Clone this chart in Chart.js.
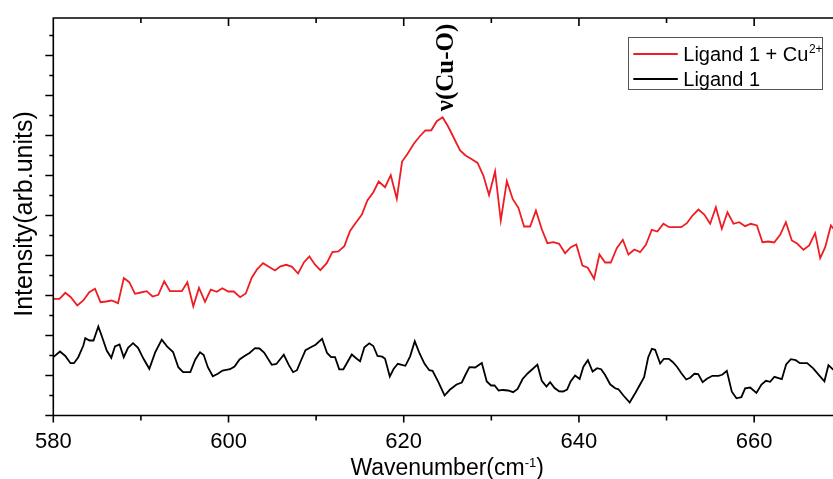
<!DOCTYPE html>
<html lang="en">
<head>
    <meta charset="UTF-8">
    <meta name="viewport" content="width=device-width, initial-scale=1.0">
    <title>Raman spectrum</title>
    <script src="https://cdn.jsdelivr.net/npm/chart.js"></script>
    <style>
        html, body {
            margin: 0;
            padding: 0;
            background: #fff;
        }
        .chart-container {
            position: relative;
            width: 833px;
            height: 479px;
        }
    </style>
</head>
<body>
    <div class="chart-container">
        <canvas id="spectrumChart"></canvas>
    </div>
    <script>
        // axis ticks
        const wavenumberMajorTicks = [580, 600, 620, 640, 660];
        const wavenumberMinorTicks = [590, 610, 630, 650];
        const intensityMajorTicks = [0, 10, 20, 30, 40, 50, 60, 70, 80, 90];
        const intensityMinorTicks = [5, 15, 25, 35, 45, 55, 65, 75, 85, 95];

        // Ligand 1 + Cu2+ (red)
        const cuWavenumbers = [
            580.00, 580.71, 581.37, 582.00, 582.74, 583.43, 584.10, 584.76, 585.39, 586.03,
            586.67, 587.39, 588.05, 588.67, 589.33, 589.99, 590.66, 591.33, 591.99, 592.66,
            593.32, 594.01, 594.67, 595.30, 595.98, 596.63, 597.32, 597.97, 598.66, 599.29,
            599.97, 600.60, 601.32, 601.97, 602.65, 603.26, 603.94, 604.60, 605.31, 605.93,
            606.60, 607.25, 607.94, 608.62, 609.23, 609.88, 610.48, 611.21, 611.85, 612.54,
            613.22, 613.87, 614.53, 615.21, 615.85, 616.53, 617.14, 617.87, 618.52, 619.21,
            619.81, 620.44, 621.15, 621.81, 622.47, 623.15, 623.77, 624.44, 625.10, 625.81,
            626.43, 627.06, 627.77, 628.43, 629.09, 629.74, 630.43, 631.08, 631.77, 632.45,
            633.09, 633.74, 634.43, 635.09, 635.76, 636.40, 637.09, 637.74, 638.42, 639.07,
            639.70, 640.40, 641.01, 641.73, 642.34, 642.99, 643.64, 644.32, 645.01, 645.65,
            646.33, 646.98, 647.64, 648.32, 648.96, 649.64, 650.30, 650.98, 651.67, 652.32,
            652.96, 653.64, 654.31, 654.98, 655.63, 656.31, 656.95, 657.64, 658.29, 658.97,
            659.62, 660.31, 660.95, 661.63, 662.28, 662.97, 663.62, 664.30, 664.94, 665.63,
            666.28, 666.96, 667.54, 668.11, 668.76, 669.42
        ];
        const cuIntensity = [
            29.18, 29.18, 30.68, 29.58, 27.50, 28.75, 30.83, 31.68, 28.33, 28.50,
            28.75, 28.08, 34.38, 33.33, 30.43, 30.75, 31.08, 29.75, 30.18, 33.58,
            31.08, 31.08, 31.08, 33.33, 27.30, 31.93, 28.43, 31.45, 30.93, 31.83,
            31.00, 31.00, 29.58, 30.50, 34.45, 36.55, 38.08, 37.18, 36.25, 37.30,
            37.68, 37.18, 35.50, 38.33, 39.75, 37.70, 36.33, 38.08, 40.83, 41.00,
            42.33, 46.13, 48.18, 50.18, 53.75, 55.83, 58.50, 57.08, 60.08, 54.18,
            63.50, 65.43, 67.93, 69.75, 71.25, 71.30, 73.58, 74.58, 72.13, 69.00,
            66.25, 65.00, 64.08, 63.13, 60.00, 55.13, 61.00, 48.75, 58.58, 54.08,
            51.93, 47.25, 47.25, 51.25, 46.55, 43.08, 43.33, 42.93, 40.58, 42.08,
            42.75, 37.50, 36.93, 34.18, 40.25, 38.25, 38.25, 41.83, 43.93, 40.25,
            41.50, 40.83, 42.68, 46.43, 46.00, 47.93, 47.08, 47.08, 47.08, 48.08,
            50.00, 51.50, 50.25, 47.93, 52.08, 46.68, 50.83, 47.93, 48.33, 47.33,
            47.93, 47.50, 43.33, 43.50, 43.25, 45.18, 48.33, 43.75, 42.93, 41.43,
            42.50, 45.58, 39.33, 42.08, 47.50, 45.75
        ];

        // Ligand 1 (black)
        const ligandWavenumbers = [
            580.00, 580.76, 581.37, 581.96, 582.36, 582.85, 583.43, 583.65, 584.13, 584.59,
            585.14, 585.53, 586.10, 586.62, 587.04, 587.56, 588.04, 588.53, 589.10, 589.67,
            590.30, 590.96, 591.65, 592.38, 592.98, 593.67, 594.27, 594.81, 595.64, 596.21,
            596.75, 597.17, 597.64, 598.21, 598.78, 599.32, 600.17, 600.69, 601.26, 601.83,
            602.40, 603.03, 603.54, 604.06, 604.94, 605.46, 606.31, 606.89, 607.37, 607.82,
            608.20, 608.79, 609.40, 609.94, 610.68, 611.25, 611.71, 612.16, 612.64, 613.11,
            614.07, 614.64, 615.02, 615.51, 616.07, 616.53, 617.01, 617.55, 617.87, 618.41,
            618.86, 619.33, 620.19, 620.73, 621.26, 621.81, 622.38, 622.92, 623.29, 623.96,
            624.66, 625.26, 626.03, 626.63, 627.06, 627.50, 628.15, 628.91, 629.48, 629.97,
            630.37, 630.83, 631.34, 631.91, 632.49, 633.00, 633.57, 634.14, 634.65, 635.26,
            635.76, 636.29, 636.71, 637.22, 637.74, 638.19, 638.65, 639.05, 639.56, 640.08,
            640.51, 641.02, 641.56, 642.07, 642.53, 642.99, 643.56, 644.13, 644.51, 645.08,
            645.79, 646.47, 647.04, 647.44, 647.90, 648.32, 648.70, 649.27, 649.70, 650.26,
            650.70, 651.21, 651.67, 652.24, 652.69, 653.18, 653.61, 654.12, 654.61, 655.23,
            655.92, 656.35, 656.88, 657.45, 657.98, 658.54, 658.97, 659.54, 660.26, 660.83,
            661.35, 661.83, 662.31, 663.16, 663.65, 664.19, 664.74, 665.22, 666.05, 666.74,
            667.40, 668.02, 668.48, 668.99, 669.50
        ];
        const ligandIntensity = [
            14.58, 16.00, 14.88, 13.08, 13.08, 14.58, 17.50, 19.33, 18.75, 18.75,
            22.25, 19.88, 16.25, 14.43, 17.25, 17.75, 14.58, 16.93, 18.08, 16.93,
            14.18, 11.68, 15.88, 18.95, 17.30, 15.88, 12.08, 10.83, 10.83, 14.00,
            15.83, 15.13, 12.08, 9.80, 10.43, 11.25, 11.58, 12.25, 14.00, 14.88,
            15.63, 16.83, 16.75, 15.75, 12.68, 12.88, 15.18, 12.58, 10.83, 11.33,
            13.38, 16.33, 17.05, 17.70, 19.18, 15.63, 14.58, 14.58, 11.55, 11.55,
            15.25, 14.18, 13.55, 17.08, 18.05, 17.38, 14.88, 14.70, 14.18, 9.75,
            11.68, 12.93, 12.43, 14.80, 18.55, 15.50, 12.93, 11.33, 11.18, 8.33,
            5.00, 6.43, 7.75, 8.25, 10.25, 12.08, 12.00, 13.13, 8.50, 7.50,
            7.50, 6.25, 6.38, 6.25, 5.83, 6.63, 9.13, 10.50, 11.50, 12.70,
            8.65, 7.25, 8.33, 6.88, 6.05, 6.00, 6.50, 8.50, 10.00, 9.13,
            12.20, 13.83, 11.00, 11.83, 11.58, 10.13, 7.80, 6.80, 6.55, 5.00,
            3.25, 5.75, 8.00, 9.58, 14.50, 16.68, 16.43, 13.00, 14.18, 14.18,
            13.38, 12.13, 10.63, 9.00, 9.45, 10.43, 10.33, 8.33, 9.18, 9.93,
            9.93, 10.18, 11.18, 5.95, 4.30, 4.58, 6.80, 7.00, 5.63, 7.75,
            8.68, 8.43, 9.68, 9.08, 12.75, 14.08, 13.83, 13.08, 13.08, 11.80,
            10.08, 8.55, 12.58, 11.55, 12.25
        ];

        // peak label
        const peakLabel = 'ν(Cu-O)';
        const peakLabelX = 625.6;
        const peakLabelY = 87.0;

        const sansFont = '"Liberation Sans", Arial, sans-serif';

        const axisFrame = {
            id: 'axisFrame',
            afterDatasetsDraw(chart) {
                const { ctx, chartArea: area, scales } = chart;
                const xs = scales.x, ys = scales.y;
                ctx.save();
                ctx.strokeStyle = '#000';
                ctx.lineWidth = 1.6;
                ctx.lineCap = 'butt';
                ctx.beginPath();
                // frame
                ctx.moveTo(area.right + 2, area.top);
                ctx.lineTo(area.left, area.top);
                ctx.lineTo(area.left, area.bottom);
                ctx.lineTo(area.right + 2, area.bottom);
                // x ticks, bottom outward and top inward
                wavenumberMajorTicks.forEach(v => {
                    const px = xs.getPixelForValue(v);
                    ctx.moveTo(px, area.bottom); ctx.lineTo(px, area.bottom + 7);
                    ctx.moveTo(px, area.top); ctx.lineTo(px, area.top + 8);
                });
                wavenumberMinorTicks.forEach(v => {
                    const px = xs.getPixelForValue(v);
                    ctx.moveTo(px, area.bottom); ctx.lineTo(px, area.bottom + 5);
                    ctx.moveTo(px, area.top); ctx.lineTo(px, area.top + 5);
                });
                // y ticks, outward
                intensityMajorTicks.forEach(v => {
                    const py = ys.getPixelForValue(v);
                    ctx.moveTo(area.left - 8, py); ctx.lineTo(area.left, py);
                });
                intensityMinorTicks.forEach(v => {
                    const py = ys.getPixelForValue(v);
                    ctx.moveTo(area.left - 4, py); ctx.lineTo(area.left, py);
                });
                ctx.stroke();

                ctx.fillStyle = '#000';

                // y title
                ctx.save();
                ctx.translate(32, 214);
                ctx.rotate(-Math.PI / 2);
                ctx.font = '25px ' + sansFont;
                ctx.textAlign = 'center';
                ctx.textBaseline = 'alphabetic';
                ctx.fillText('Intensity(arb.units)', 0, 0);
                ctx.restore();

                // x title with superscript
                const main = 'Wavenumber(cm', sup = '-1', close = ')';
                ctx.font = '23px ' + sansFont;
                const wMain = ctx.measureText(main).width;
                const wClose = ctx.measureText(close).width;
                ctx.font = '13px ' + sansFont;
                const wSup = ctx.measureText(sup).width;
                const total = wMain + wSup + wClose;
                let tx = (area.left + area.right) / 2 + 4 - total / 2;
                const ty = 475;
                ctx.textAlign = 'left';
                ctx.font = '23px ' + sansFont;
                ctx.fillText(main, tx, ty);
                tx += wMain;
                ctx.font = '13px ' + sansFont;
                ctx.fillText(sup, tx, ty - 8);
                tx += wSup;
                ctx.font = '23px ' + sansFont;
                ctx.fillText(close, tx, ty);

                // peak label
                ctx.save();
                ctx.translate(xs.getPixelForValue(peakLabelX), ys.getPixelForValue(peakLabelY));
                ctx.rotate(-Math.PI / 2);
                ctx.font = 'bold 25px "Liberation Serif", "Times New Roman", serif';
                ctx.textAlign = 'center';
                ctx.textBaseline = 'alphabetic';
                ctx.fillText(peakLabel, 0, 0);
                ctx.restore();

                // legend box
                const boxW = 194, boxH = 52;
                const bx = area.right - 10.7 - boxW;
                const by = area.top + 19.3;
                ctx.lineWidth = 1;
                ctx.strokeStyle = '#555';
                ctx.strokeRect(Math.round(bx) + 0.5, Math.round(by) + 0.5, boxW, boxH);
                chart.data.datasets.forEach((ds, i) => {
                    const ly = by + 16.7 + i * 25;
                    ctx.strokeStyle = ds.borderColor;
                    ctx.lineWidth = 1.8;
                    ctx.beginPath();
                    ctx.moveTo(bx + 5, ly);
                    ctx.lineTo(bx + 49.5, ly);
                    ctx.stroke();
                    ctx.fillStyle = '#000';
                    ctx.font = '20px ' + sansFont;
                    ctx.textAlign = 'left';
                    ctx.fillText(ds.label, bx + 55, ly + 7);
                    if (ds.labelSup) {
                        const w = ctx.measureText(ds.label).width;
                        ctx.font = '12px ' + sansFont;
                        ctx.fillText(ds.labelSup, bx + 55 + w + 0.5, ly - 1.5);
                    }
                });
                ctx.restore();
            }
        };

        const ctx = document.getElementById('spectrumChart').getContext('2d');
        const chart = new Chart(ctx, {
            type: 'line',
            data: {
                datasets: [
                    {
                        label: 'Ligand 1 + Cu',
                        labelSup: '2+',
                        data: cuWavenumbers.map((x, i) => ({ x: x, y: cuIntensity[i] })),
                        borderColor: '#ee1d23',
                        borderWidth: 1.8,
                        pointRadius: 0,
                        tension: 0,
                        fill: false
                    },
                    {
                        label: 'Ligand 1',
                        data: ligandWavenumbers.map((x, i) => ({ x: x, y: ligandIntensity[i] })),
                        borderColor: '#000000',
                        borderWidth: 1.8,
                        pointRadius: 0,
                        tension: 0,
                        fill: false
                    }
                ]
            },
            options: {
                responsive: true,
                maintainAspectRatio: false,
                animation: false,
                layout: {
                    padding: { top: 18, right: 0, bottom: 0, left: 0 }
                },
                plugins: {
                    legend: { display: false },
                    tooltip: { enabled: false }
                },
                scales: {
                    x: {
                        type: 'linear',
                        min: 580,
                        max: 669,
                        grid: { display: false, drawTicks: false },
                        border: { display: false },
                        ticks: {
                            color: '#000',
                            font: { family: sansFont, size: 22 },
                            padding: 13.5,
                            maxRotation: 0,
                            autoSkip: false
                        },
                        afterBuildTicks: scale => {
                            scale.ticks = wavenumberMajorTicks.map(v => ({ value: v }));
                        },
                        afterFit: scale => {
                            scale.height = 63.5;
                        }
                    },
                    y: {
                        type: 'linear',
                        min: 0,
                        max: 99.375,
                        grid: { display: false, drawTicks: false },
                        border: { display: false },
                        ticks: { display: false },
                        afterFit: scale => {
                            scale.width = 53.3;
                        }
                    }
                }
            },
            plugins: [axisFrame]
        });
    </script>
</body>
</html>
